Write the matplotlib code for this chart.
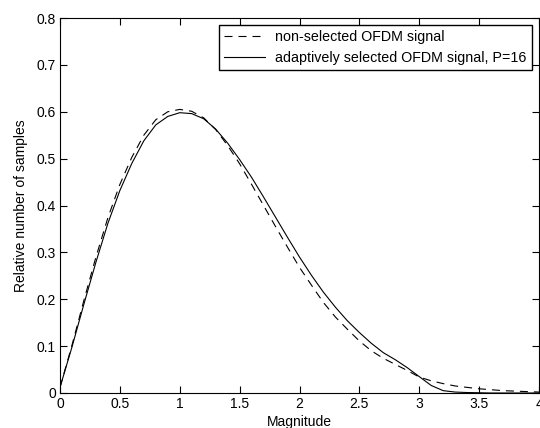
import numpy as np
import matplotlib.pyplot as plt

plt.rcParams['font.family'] = ['Liberation Sans', 'DejaVu Sans']

# magnitude grid
magnitude = [0.0, 0.1, 0.2, 0.3, 0.4, 0.5, 0.6, 0.7, 0.8, 0.9, 1.0,
             1.1, 1.2, 1.3, 1.4, 1.5, 1.6, 1.7, 1.8, 1.9, 2.0,
             2.1, 2.2, 2.3, 2.4, 2.5, 2.6, 2.7, 2.8, 2.9, 3.0,
             3.1, 3.2, 3.3, 3.4, 3.5, 3.6, 3.7, 3.8, 3.9, 4.0]

non_selected = [0.012, 0.102, 0.198, 0.290, 0.374, 0.445, 0.503, 0.550, 0.583, 0.600, 0.605,
                0.601, 0.587, 0.562, 0.528, 0.489, 0.445, 0.400, 0.355, 0.311, 0.268,
                0.230, 0.193, 0.162, 0.136, 0.111, 0.090, 0.074, 0.061, 0.048, 0.034,
                0.026, 0.020, 0.015, 0.012, 0.009, 0.007, 0.005, 0.004, 0.003, 0.002]

selected = [0.012, 0.098, 0.190, 0.279, 0.362, 0.432, 0.490, 0.538, 0.572, 0.590, 0.598,
            0.596, 0.585, 0.563, 0.533, 0.498, 0.460, 0.418, 0.375, 0.332, 0.290,
            0.251, 0.215, 0.183, 0.154, 0.129, 0.106, 0.086, 0.071, 0.054, 0.035,
            0.016, 0.005, 0.002, 0.001, 0.0005, 0.0, 0.0, 0.0, 0.0, 0.0]

fig = plt.figure(figsize=(5.4, 4.28), dpi=100)
ax = fig.add_axes([60/540, 1-393/428, 479/540, 375/428])

ax.plot(magnitude, non_selected, color='black', linewidth=0.8, linestyle=(0, (7.2, 5.4)),
        label='non-selected OFDM signal')
ax.plot(magnitude, selected, color='black', linewidth=0.8, linestyle='-',
        label='adaptively selected OFDM signal, P=16')

ax.set_xlim(0, 4)
ax.set_ylim(0, 0.8)
ax.set_xticks(np.arange(0, 4.01, 0.5))
ax.set_xticklabels(['0', '0.5', '1', '1.5', '2', '2.5', '3', '3.5', '4'])
ax.set_yticks(np.arange(0, 0.81, 0.1))
ax.set_yticklabels(['0', '0.1', '0.2', '0.3', '0.4', '0.5', '0.6', '0.7', '0.8'])
ax.tick_params(direction='in', top=True, right=True, length=5, width=0.8,
               labelsize=10, pad=3)
for s in ax.spines.values():
    s.set_linewidth(0.8)

ax.set_xlabel('Magnitude', fontsize=10, labelpad=3)
ax.set_ylabel('Relative number of samples', fontsize=10, labelpad=6)

leg = ax.legend(loc='upper right', fontsize=10.3, fancybox=False, framealpha=1,
                edgecolor='black', handlelength=2.9, handletextpad=0.7,
                borderaxespad=0.5, borderpad=0.35, labelspacing=0.5)
leg.get_frame().set_linewidth(1.0)

fig.savefig('out.png', dpi=100)
